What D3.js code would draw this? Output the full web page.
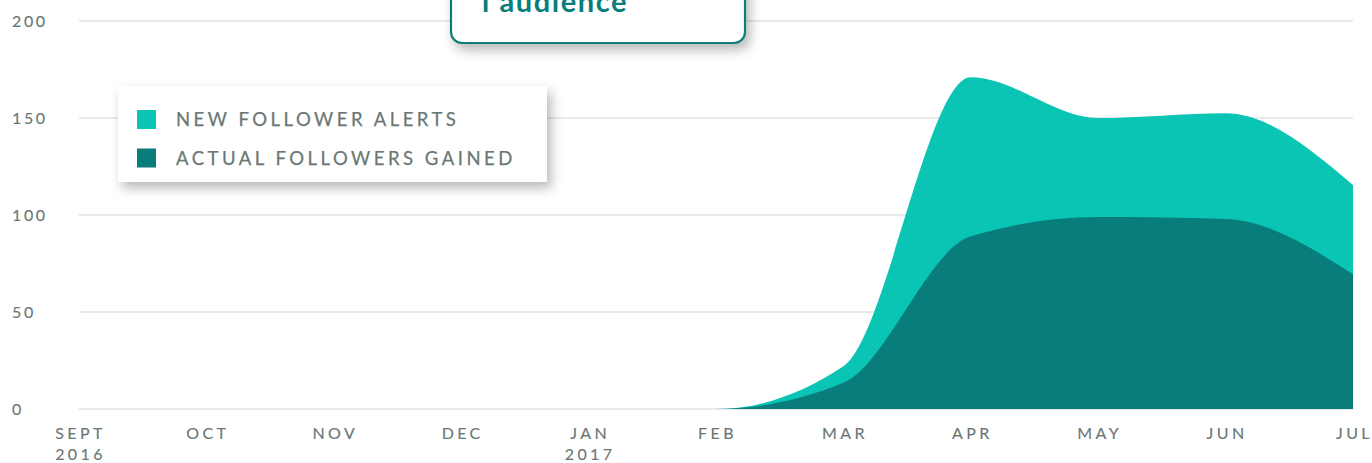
<!DOCTYPE html>
<html>
<head>
<meta charset="utf-8">
<script src="https://cdn.jsdelivr.net/npm/d3@7"></script>
<style>
  html, body { margin: 0; padding: 0; background: #fff; }
  svg { display: block; }
  text { font-family: Lato, "Open Sans", sans-serif; }
</style>
</head>
<body>
<svg id="chart" width="1372" height="463"></svg>
<script>
const months = ["SEPT", "OCT", "NOV", "DEC", "JAN", "FEB", "MAR", "APR", "MAY", "JUN", "JUL"];
const years = ["2016", "", "", "", "2017", "", "", "", "", "", ""];
const newFollowerAlerts = [0, 0, 0, 0, 0, 0, 22, 171, 150, 152.5, 115.5];
const actualFollowersGained = [0, 0, 0, 0, 0, 0, 13.5, 89, 99, 98, 69.5];
const yTicks = [0, 50, 100, 150, 200];
const legendLabels = ["NEW FOLLOWER ALERTS", "ACTUAL FOLLOWERS GAINED"];
const calloutText = "l audience";

const colors = { light: "#0ac4b4", dark: "#087d7b", grid: "#e2e2e2", text: "#6b7775" };

const svg = d3.select("#chart");
const defs = svg.append("defs");
const f = defs.append("filter").attr("id", "shadow").attr("x", "-20%").attr("y", "-40%").attr("width", "140%").attr("height", "190%");
f.append("feDropShadow").attr("dx", 4).attr("dy", 6).attr("stdDeviation", 6).attr("flood-color", "#000").attr("flood-opacity", 0.28);

const x = d3.scalePoint().domain(months).range([79, 1353]);
const y = d3.scaleLinear().domain([0, 200]).range([409, 21]);

// gridlines
svg.append("g").selectAll("line").data(yTicks).join("line")
  .attr("x1", 79).attr("x2", 1353)
  .attr("y1", d => y(d)).attr("y2", d => y(d))
  .attr("stroke", colors.grid).attr("stroke-width", 1.3);

// y labels
svg.append("g").selectAll("text").data(yTicks).join("text")
  .attr("x", 12).attr("y", d => y(d)).attr("dy", "0.36em")
  .attr("fill", colors.text).attr("stroke", colors.text).attr("stroke-width", 0.15)
  .attr("font-size", 16).attr("letter-spacing", 2.6)
  .text(d => d);

const series = months.map((m, i) => ({ m, a: newFollowerAlerts[i], b: actualFollowersGained[i] }));

const areaA = d3.area().x(d => x(d.m)).y0(y(0)).y1(d => y(d.a)).curve(d3.curveMonotoneX);
const areaB = d3.area().x(d => x(d.m)).y0(y(0)).y1(d => y(d.b)).curve(d3.curveMonotoneX);

svg.append("path").datum(series).attr("d", areaA).attr("fill", colors.light);
svg.append("path").datum(series).attr("d", areaB).attr("fill", colors.dark);

// x labels
const xl = svg.append("g");
xl.selectAll("text.m").data(months).join("text").attr("class", "m")
  .attr("x", d => x(d) + 1.5).attr("y", 439)
  .attr("text-anchor", "middle")
  .attr("fill", colors.text).attr("stroke", colors.text).attr("stroke-width", 0.15)
  .attr("font-size", 16).attr("letter-spacing", 3.4)
  .text(d => d);
xl.selectAll("text.yr").data(months.map((m, i) => ({ m, yr: years[i] })).filter(d => d.yr)).join("text").attr("class", "yr")
  .attr("x", d => x(d.m) + 1.5).attr("y", 459.5)
  .attr("text-anchor", "middle")
  .attr("fill", colors.text).attr("stroke", colors.text).attr("stroke-width", 0.15)
  .attr("font-size", 16).attr("letter-spacing", 3.4)
  .text(d => d.yr);

// legend
const lg = svg.append("g");
lg.append("rect").attr("x", 118).attr("y", 86).attr("width", 429).attr("height", 96)
  .attr("fill", "#fff").attr("filter", "url(#shadow)");
const legendColors = [colors.light, colors.dark];
legendLabels.forEach((lab, i) => {
  const cy = 119.5 + i * 38.5;
  lg.append("rect").attr("x", 137).attr("y", cy - 9.5).attr("width", 19).attr("height", 19).attr("fill", legendColors[i]);
  lg.append("text").attr("x", 176).attr("y", cy).attr("dy", "0.36em")
    .attr("fill", colors.text).attr("stroke", colors.text).attr("stroke-width", 0.25)
    .attr("font-size", 18.5).attr("letter-spacing", 3.5)
    .text(lab);
});

// callout
const cg = svg.append("g");
cg.append("rect").attr("x", 451).attr("y", -40).attr("width", 294).attr("height", 83)
  .attr("rx", 11).attr("ry", 11)
  .attr("fill", "#fff").attr("stroke", colors.dark).attr("stroke-width", 2.2)
  .attr("filter", "url(#shadow)");
cg.append("text").attr("x", 482).attr("y", 12)
  .attr("fill", colors.dark).attr("font-size", 29).attr("font-weight", "bold")
  .attr("letter-spacing", 1.6)
  .text(calloutText);
</script>
</body>
</html>
